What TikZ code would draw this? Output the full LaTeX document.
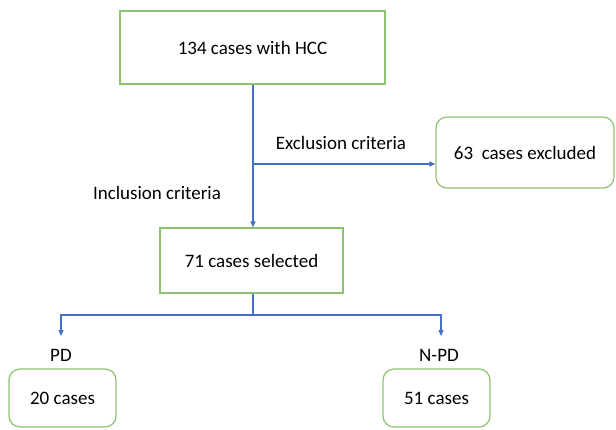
\documentclass[tikz,border=0pt]{standalone}
\usepackage{fontspec}
\setmainfont{Carlito}
\usetikzlibrary{arrows.meta}
\definecolor{boxgreen}{RGB}{141,194,111}
\definecolor{lineblue}{RGB}{68,114,196}
\tikzset{
  sqbox/.style={draw=boxgreen, line width=1.2pt, rectangle, inner sep=0pt, align=center},
  rdbox/.style={draw=boxgreen, line width=1.2pt, rectangle, rounded corners=11pt, inner sep=0pt, align=center},
  conn/.style={draw=lineblue, line width=1.1pt},
  arr/.style={conn, -{Triangle[length=6pt,width=5pt]}},
  lbl/.style={inner sep=0pt}
}
\begin{document}
\begin{tikzpicture}[x=1pt,y=-1pt,font=\fontsize{19}{23}\selectfont]
\useasboundingbox (0,0) rectangle (616,429);
\node[sqbox, minimum width=265pt, minimum height=73pt] (top) at (252.5,47.5) {134 cases with HCC};
\node[rdbox, minimum width=178pt, minimum height=71pt] (excl) at (525,152.5) {63~ cases excluded};
\node[sqbox, minimum width=183pt, minimum height=65pt] (mid) at (251.5,260.5) {71 cases selected};
\node[rdbox, minimum width=107pt, minimum height=58pt] (pdbox) at (62.5,398) {20 cases};
\node[rdbox, minimum width=107pt, minimum height=58pt] (npdbox) at (436.5,398) {51 cases};
\node[lbl] (exlbl) at (341,143) {Exclusion criteria};
\node[lbl] (inlbl) at (157,193) {Inclusion criteria};
\node[lbl] (pdlbl) at (61,355) {PD};
\node[lbl] (npdlbl) at (439,355) {N-PD};
\coordinate (j1) at (253,164);
\coordinate (j2) at (253,315);
\coordinate (l1) at (61,315);
\coordinate (r1) at (441,315);
\coordinate (l2) at (61,336);
\coordinate (r2) at (441,336);
\draw[arr] (top.south -| j1) -- (mid.north -| j1);
\draw[arr] (j1) -- (excl.west |- j1);
\draw[conn] (mid.south -| j2) -- (j2);
\draw[arr] (j2) -- (l1) -- (l2);
\draw[arr] (j2) -- (r1) -- (r2);
\end{tikzpicture}
\end{document}
